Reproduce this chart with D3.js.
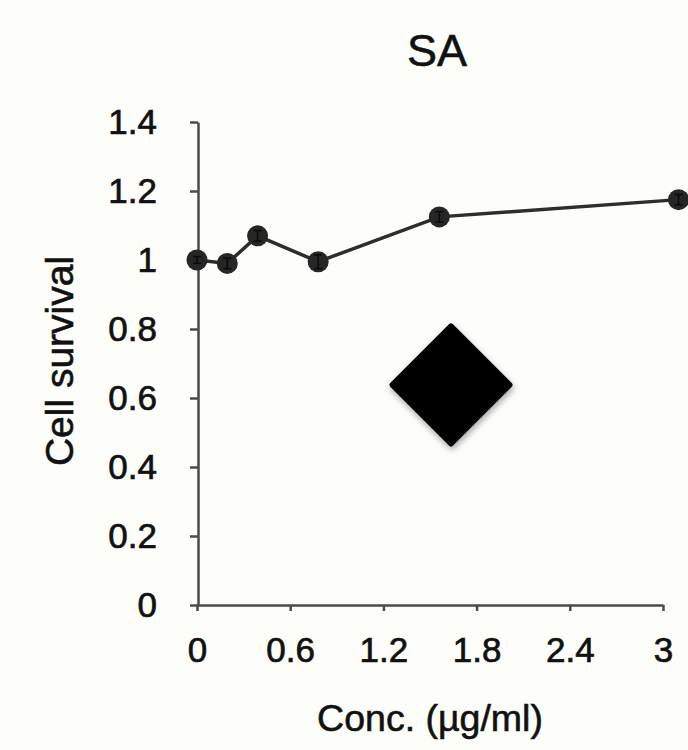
<!DOCTYPE html>
<meta charset="utf-8">
<style>
body { margin: 0; background: #fdfdf9; }
svg { display: block; background: #fdfdf9; }
.axis path, .axis line { stroke: #4a4a4a; stroke-width: 2.5; fill: none; }
.axis text { font-family: "Liberation Sans", Arial, sans-serif; font-size: 35px; fill: #111; stroke: #111; stroke-width: 0.7; }
.lbl { font-family: "Liberation Sans", Arial, sans-serif; fill: #111; stroke: #111; stroke-width: 0.6; }
</style>
<svg width="688" height="750"></svg>
<script src="https://cdn.jsdelivr.net/npm/d3@7/dist/d3.min.js"></script>
<script>

// data
var concs = [0, 0.195, 0.39, 0.78, 1.56, 3.1];
var survival = [1.0, 0.99, 1.07, 0.995, 1.125, 1.175];
var errs = [0.01, 0.015, 0.015, 0.02, 0.015, 0.015];
var xTicks = [0, 0.6, 1.2, 1.8, 2.4, 3];
var yTicks = [0, 0.2, 0.4, 0.6, 0.8, 1, 1.2, 1.4];
var title = "SA";
var xTitle = "Conc. (\u00b5g/ml)";
var yTitle = "Cell survival";
// the big black diamond, in data units
var diamondAt = [1.635, 0.638];

var svg = d3.select("svg");

var x = d3.scaleLinear().domain([0, 3]).range([197, 663]),
    y = d3.scaleLinear().domain([0, 1.4]).range([605, 122]);

var fmt = function(d){ return String(+d.toFixed(1)); };

var defs = svg.append("defs");
var f = defs.append("filter").attr("id", "shadow").attr("x", "-20%").attr("y", "-20%").attr("width", "140%").attr("height", "140%");
f.append("feDropShadow").attr("dx", 1).attr("dy", 3).attr("stdDeviation", 3).attr("flood-color", "#000").attr("flood-opacity", 0.35);

// axes
svg.append("g")
    .attr("class", "axis")
    .attr("transform", "translate(0,605)")
    .call(d3.axisBottom(x).tickValues(xTicks).tickFormat(fmt).tickSizeInner(6).tickSizeOuter(0).tickPadding(26));

svg.append("g")
    .attr("class", "axis")
    .attr("transform", "translate(198,0)")
    .call(d3.axisLeft(y).tickValues(yTicks).tickFormat(fmt).tickSizeInner(8).tickSizeOuter(0).tickPadding(33));

// line
var pts = concs.map(function(c, i){ return {x: c, y: survival[i], e: errs[i]}; });

svg.append("path")
    .datum(pts)
    .attr("fill", "none")
    .attr("stroke", "#2d2d2d")
    .attr("stroke-width", 3.5)
    .attr("d", d3.line().x(function(d){ return x(d.x); }).y(function(d){ return y(d.y); }));

svg.append("g").selectAll("circle")
    .data(pts)
    .enter().append("circle")
    .attr("cx", function(d){ return x(d.x); })
    .attr("cy", function(d){ return y(d.y); })
    .attr("r", 10.5)
    .attr("fill", "#262626");

// error bars
var eb = svg.append("g").attr("stroke", "#0a0a0a").attr("stroke-width", 1.5);
pts.forEach(function(d){
  var cx = x(d.x);
  eb.append("line").attr("x1", cx).attr("x2", cx).attr("y1", y(d.y - d.e)).attr("y2", y(d.y + d.e));
  eb.append("line").attr("x1", cx - 4).attr("x2", cx + 4).attr("y1", y(d.y - d.e)).attr("y2", y(d.y - d.e));
  eb.append("line").attr("x1", cx - 4).attr("x2", cx + 4).attr("y1", y(d.y + d.e)).attr("y2", y(d.y + d.e));
});

// diamond
var dx = x(diamondAt[0]), dy = y(diamondAt[1]), h = 59;
svg.append("path")
    .attr("d", "M" + dx + "," + (dy - h) + "L" + (dx + h) + "," + dy + "L" + dx + "," + (dy + h) + "L" + (dx - h) + "," + dy + "Z")
    .attr("fill", "#000")
    .attr("stroke", "#000")
    .attr("stroke-width", 5)
    .attr("stroke-linejoin", "round")
    .attr("filter", "url(#shadow)");

// titles
svg.append("text").attr("class", "lbl")
    .attr("x", 437).attr("y", 66)
    .attr("text-anchor", "middle")
    .style("font-size", "45px")
    .text(title);

svg.append("text").attr("class", "lbl")
    .attr("x", 430).attr("y", 731)
    .attr("text-anchor", "middle")
    .style("font-size", "37.5px")
    .text(xTitle);

svg.append("text").attr("class", "lbl")
    .attr("transform", "translate(73,361) rotate(-90)")
    .attr("text-anchor", "middle")
    .style("font-size", "39px")
    .text(yTitle);

</script>
